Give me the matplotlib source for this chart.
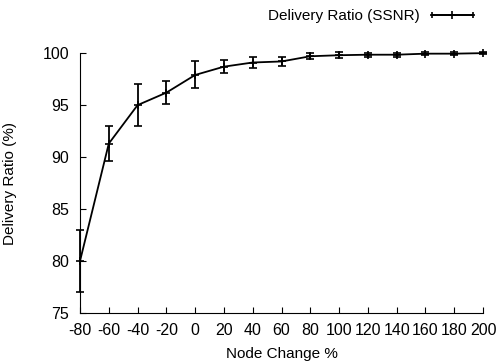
import numpy as np
import matplotlib
matplotlib.use("Agg")
import matplotlib.pyplot as plt
from matplotlib.legend_handler import HandlerErrorbar

plt.rcParams['font.family'] = ['Liberation Sans', 'DejaVu Sans']
plt.rcParams['axes.unicode_minus'] = False

node_change = [-80, -60, -40, -20, 0, 20, 40, 60, 80, 100, 120, 140, 160, 180, 200]
delivery = [80.0, 91.3, 95.0, 96.2, 97.9, 98.7, 99.1, 99.2, 99.7, 99.8, 99.85, 99.85, 99.95, 99.95, 100.0]
err = [3.0, 1.7, 2.05, 1.1, 1.3, 0.65, 0.5, 0.4, 0.3, 0.3, 0.2, 0.2, 0.15, 0.12, 0.1]

fig = plt.figure(figsize=(5, 3.64), dpi=100)
ax = fig.add_axes([0.16, 0.14, 0.806, 0.714])

eb = ax.errorbar(node_change, delivery, yerr=err, color='black', lw=1.3,
                 capsize=3, capthick=1.3, elinewidth=1.3, marker='+', ms=6, mew=1.2)
for art in eb.lines[0:1] + eb.lines[1] + eb.lines[2]:
    art.set_clip_on(False)

# legend proxy: horizontal bar with caps, like the original key
proxy = ax.errorbar([np.nan], [np.nan], xerr=[1], color='black', lw=1.3,
                    capsize=2, capthick=1.2, elinewidth=1.3, marker='+', ms=6, mew=1.2,
                    label='Delivery Ratio (SSNR)')

ax.set_xlim(-80, 200)
ax.set_ylim(75, 100)
ax.set_xticks(node_change)
ax.set_yticks(np.arange(75, 101, 5))
ax.spines['top'].set_visible(False)
ax.spines['right'].set_visible(False)
ax.tick_params(direction='in', length=4, labelsize=11.5, top=False, right=False)
ax.tick_params(axis='x', pad=7)
ax.tick_params(axis='y', pad=8)
ax.set_xlabel('Node Change %', fontsize=11, labelpad=7)
ax.set_ylabel('Delivery Ratio (%)', fontsize=11, labelpad=18)

fig.legend(handles=[proxy], loc='upper right', bbox_to_anchor=(0.975, 1.012), frameon=False,
           fontsize=11, markerfirst=False, handlelength=2.8, handletextpad=0.75,
           handler_map={type(proxy): HandlerErrorbar(xerr_size=1.35)})

fig.savefig('out.png', dpi=100)
